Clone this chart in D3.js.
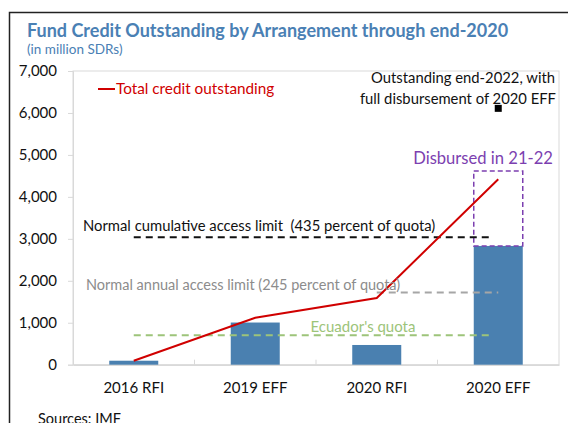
<!DOCTYPE html>
<html>
<head>
<meta charset="utf-8">
<script src="https://cdn.jsdelivr.net/npm/d3@7"></script>
<style>
  body { margin: 0; background: #fff; }
  svg { display: block; font-family: Lato, "Noto Sans", sans-serif; }
</style>
</head>
<body>
<svg id="chart"></svg>
<script>
// data (million SDRs)
const categories = ["2016 RFI", "2019 EFF", "2020 RFI", "2020 EFF"];
const disbursed = [95, 1005, 470, 2830];
const totalOutstanding = [95, 1120, 1590, 4420];
const disbursed2122 = 4615; // top of dashed box on 2020 EFF
const outstanding2022 = 6110;
const cumulativeLimit = 3040;
const annualLimit = 1720;
const quota = 700;
const yTicks = [0, 1000, 2000, 3000, 4000, 5000, 6000, 7000];

const width = 568, height = 423;
const margin = { left: 73, right: 9, top: 71, bottom: 57 };

const svg = d3.select("#chart").attr("width", width).attr("height", height);

// outer frame
svg.append("path")
  .attr("d", `M9.5,${height} V12.5 H${width}`)
  .attr("fill", "none").attr("stroke", "#222").attr("stroke-width", 1.5);

// title
svg.append("text").attr("x", 27).attr("y", 37)
  .attr("fill", "#4a80b4").attr("font-weight", "bold").attr("font-size", 18)
  .text("Fund Credit Outstanding by Arrangement through end-2020");
svg.append("text").attr("x", 27).attr("y", 54)
  .attr("fill", "#4a80b4").attr("font-size", 13.5)
  .text("(in million SDRs)");

const x = d3.scaleBand().domain(categories)
  .range([margin.left, width - margin.right]).paddingInner(0).paddingOuter(0);
const y = d3.scaleLinear().domain([0, 7000])
  .range([height - margin.bottom - 1.3, margin.top]);

const g = svg.append("g");

// plot frame
g.append("rect")
  .attr("x", margin.left).attr("y", y(7000))
  .attr("width", x.range()[1] - margin.left).attr("height", y(0) - y(7000))
  .attr("fill", "none").attr("stroke", "#d9d9d9").attr("stroke-width", 1);

// y axis
const yAxis = g.append("g")
  .attr("transform", `translate(${margin.left},0)`)
  .call(d3.axisLeft(y).tickValues(yTicks).tickSize(5).tickPadding(11)
    .tickFormat(d3.format(",")));
yAxis.select(".domain").attr("stroke", "#d9d9d9");
yAxis.selectAll(".tick line").attr("stroke", "#d9d9d9");
yAxis.selectAll("text").attr("font-size", 15).attr("fill", "#111")
  .attr("font-family", "Lato, sans-serif");

// x axis
const xAxis = g.append("g")
  .attr("transform", `translate(0,${y(0)})`)
  .call(d3.axisBottom(x).tickSize(0).tickPadding(18));
xAxis.select(".domain").attr("stroke", "#d9d9d9").attr("stroke-width", 1.5);
xAxis.selectAll("text").attr("font-size", 15).attr("fill", "#111")
  .attr("font-family", "Lato, sans-serif");
// category separators
g.selectAll(".sep").data(categories.slice(1)).enter().append("line")
  .attr("x1", d => x(d)).attr("x2", d => x(d))
  .attr("y1", y(0)).attr("y2", y(0) - 5)
  .attr("stroke", "#d9d9d9");

// bars
const barW = 49;
g.selectAll(".bar").data(categories).enter().append("rect")
  .attr("x", d => x(d) + x.bandwidth() / 2 - barW / 2)
  .attr("y", (d, i) => y(disbursed[i]))
  .attr("width", barW)
  .attr("height", (d, i) => y(0) - y(disbursed[i]))
  .attr("fill", "#4a80b0");

// dashed box on 2020 EFF
const last = categories[3];
g.append("rect")
  .attr("x", x(last) + x.bandwidth() / 2 - barW / 2)
  .attr("y", y(disbursed2122))
  .attr("width", barW)
  .attr("height", y(disbursed[3]) - y(disbursed2122))
  .attr("fill", "none").attr("stroke", "#7c3fb0").attr("stroke-width", 1.5)
  .attr("stroke-dasharray", "5,3");

// reference dashed lines
const cx = d => x(d) + x.bandwidth() / 2;
function refLine(v, x1, x2, color) {
  g.append("line")
    .attr("x1", x1).attr("x2", x2).attr("y1", y(v)).attr("y2", y(v))
    .attr("stroke", color).attr("stroke-width", 2)
    .attr("stroke-dasharray", "7,5");
}
refLine(cumulativeLimit, cx(categories[0]), cx(last) - 5, "#111");
refLine(annualLimit, cx(categories[2]), cx(last), "#a6a6a6");
refLine(quota, cx(categories[0]), cx(last) - 5, "#9dc47a");

// total credit line
const line = d3.line().x((d, i) => cx(categories[i])).y(d => y(d));
g.append("path").datum(totalOutstanding)
  .attr("d", line).attr("fill", "none")
  .attr("stroke", "#d00000").attr("stroke-width", 2);

// end-2022 marker
g.append("rect")
  .attr("x", cx(last) - 3.5).attr("y", y(outstanding2022) - 3.5)
  .attr("width", 7).attr("height", 7).attr("fill", "#000");

// annotations
function label(txt, xx, yy, color, anchor, size) {
  return g.append("text").attr("x", xx).attr("y", yy)
    .attr("fill", color).attr("font-size", size || 14.5)
    .style("white-space", "pre")
    .attr("text-anchor", anchor || "start").text(txt);
}
g.append("line").attr("x1", 98).attr("x2", 115).attr("y1", 89).attr("y2", 89)
  .attr("stroke", "#d00000").attr("stroke-width", 2);
label("Total credit outstanding", 116, 94, "#d00000", "start", 15.3);
label("Outstanding end-2022, with", 555, 83, "#111", "end", 14.8);
label("full disbursement of 2020 EFF", 556, 104, "#111", "end", 14.8);
label("Disbursed in 21-22", 553, 164, "#7c3fb0", "end", 16.6);
label("Normal cumulative access limit  (435 percent of quota)", 83, 231, "#111", "start", 14.8);
label("Normal annual access limit (245 percent of quota)", 86, 290, "#8c8c8c");
label("Ecuador's quota", 363, 332, "#9dc47a", "middle", 15);

svg.append("text").attr("x", 38).attr("y", 424)
  .attr("font-size", 14.5).attr("fill", "#111").text("Sources: IMF");
</script>
</body>
</html>
